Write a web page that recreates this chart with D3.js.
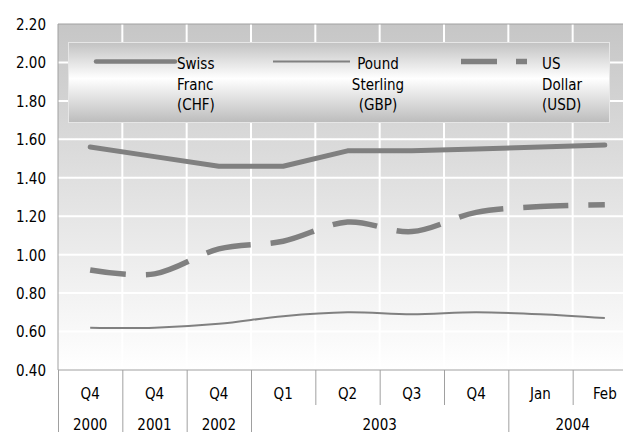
<!DOCTYPE html>
<html>
<head>
<meta charset="utf-8">
<script src="https://cdn.jsdelivr.net/npm/d3@7/dist/d3.min.js"></script>
<style>
  html, body { margin: 0; padding: 0; background: #ffffff; }
  svg { display: block; }
  text { font-family: "DejaVu Sans Condensed", "DejaVu Sans", sans-serif; font-stretch: condensed; font-size: 15px; fill: #000; }
</style>
</head>
<body>
<svg id="chart" width="623" height="432"></svg>
<script>
// Exchange rates per period
const periods = ["Q4", "Q4", "Q4", "Q1", "Q2", "Q3", "Q4", "Jan", "Feb"];
const years   = ["2000", "2001", "2002", "2003", "2003", "2003", "2003", "2004", "2004"];
const chf = [1.56, 1.51, 1.46, 1.46, 1.54, 1.54, 1.55, 1.56, 1.57];
const gbp = [0.62, 0.62, 0.64, 0.68, 0.70, 0.69, 0.70, 0.69, 0.67];
const usd = [0.92, 0.90, 1.03, 1.07, 1.17, 1.12, 1.22, 1.25, 1.26];
const seriesNames = [["Swiss", "Franc", "(CHF)"], ["Pound", "Sterling", "(GBP)"], ["US", "Dollar", "(USD)"]];
const yTicks = [0.4, 0.6, 0.8, 1.0, 1.2, 1.4, 1.6, 1.8, 2.0, 2.2];

const svg = d3.select("#chart");
const plot = { left: 58, top: 24, right: 637, bottom: 370 };
const grey = "#808080";

const idx = periods.map((_, i) => i);
const x = d3.scaleBand().domain(idx).range([plot.left, plot.right]).padding(0);
const y = d3.scaleLinear().domain([0.4, 2.2]).range([plot.bottom, plot.top]);
const cx = i => x(i) + x.bandwidth() / 2;

const defs = svg.append("defs");
const bg = defs.append("linearGradient").attr("id", "plotBg").attr("x1", 0).attr("y1", 0).attr("x2", 0).attr("y2", 1);
bg.append("stop").attr("offset", "0%").attr("stop-color", "#c6c6c6");
bg.append("stop").attr("offset", "100%").attr("stop-color", "#ffffff");
const lg = defs.append("linearGradient").attr("id", "legendBg").attr("x1", 0).attr("y1", 0).attr("x2", 0).attr("y2", 1);
lg.append("stop").attr("offset", "0%").attr("stop-color", "#c2c2c2");
lg.append("stop").attr("offset", "45%").attr("stop-color", "#ffffff");
lg.append("stop").attr("offset", "100%").attr("stop-color", "#bcbcbc");

// Plot background
svg.append("rect")
  .attr("x", plot.left).attr("y", plot.top)
  .attr("width", plot.right - plot.left).attr("height", plot.bottom - plot.top)
  .attr("fill", "url(#plotBg)");

// White grid
const grid = svg.append("g").attr("stroke", "#ffffff").attr("stroke-width", 2);
grid.selectAll("line.h").data(yTicks.slice(1, -1)).join("line")
  .attr("x1", plot.left).attr("x2", plot.right)
  .attr("y1", d => y(d)).attr("y2", d => y(d));
grid.selectAll("line.v").data(idx.slice(1)).join("line")
  .attr("x1", d => x(d)).attr("x2", d => x(d))
  .attr("y1", plot.top).attr("y2", plot.bottom);

// Plot frame
svg.append("path")
  .attr("d", `M${plot.left},${plot.bottom}V${plot.top}H${plot.right}`)
  .attr("fill", "none").attr("stroke", "#a0a0a0").attr("stroke-width", 1);

// Y axis labels
const yAxis = d3.axisLeft(y).tickValues(yTicks).tickFormat(d3.format(".2f")).tickSize(0).tickPadding(12);
const ya = svg.append("g").attr("transform", `translate(${plot.left},0)`).call(yAxis);
ya.select(".domain").remove();
ya.selectAll("text").attr("font-size", null).attr("font-family", null).attr("fill", "#000").attr("dy", "0.36em");

// Category axis: period row and year row
const ax = svg.append("g");
ax.append("line").attr("x1", plot.left).attr("x2", plot.right)
  .attr("y1", plot.bottom).attr("y2", plot.bottom).attr("stroke", "#a0a0a0");
const yearStart = idx.filter(i => i === 0 || years[i] !== years[i - 1]);
ax.selectAll("line.sep").data(idx).join("line")
  .attr("x1", d => x(d) + 0.5).attr("x2", d => x(d) + 0.5)
  .attr("y1", plot.bottom)
  .attr("y2", d => yearStart.includes(d) ? 432 : 405)
  .attr("stroke", "#a0a0a0");
ax.selectAll("text.period").data(idx).join("text")
  .attr("x", d => cx(d)).attr("y", 399)
  .attr("text-anchor", "middle").text(d => periods[d]);
const yearGroups = yearStart.map((s, k) => {
  const e = k + 1 < yearStart.length ? yearStart[k + 1] - 1 : idx.length - 1;
  return { label: years[s], x0: x(s), x1: x(e) + x.bandwidth() };
});
ax.selectAll("text.year").data(yearGroups).join("text")
  .attr("x", d => (d.x0 + d.x1) / 2).attr("y", 430)
  .attr("text-anchor", "middle").text(d => d.label);

// Series lines
const linear = d3.line().x((d, i) => cx(i)).y(d => y(d));
const smooth = d3.line().x((d, i) => cx(i)).y(d => y(d)).curve(d3.curveCardinal.tension(0));

svg.append("path").attr("d", smooth(gbp))
  .attr("fill", "none").attr("stroke", grey).attr("stroke-width", 2);
svg.append("path").attr("d", smooth(usd))
  .attr("fill", "none").attr("stroke", grey).attr("stroke-width", 5.5)
  .attr("stroke-dasharray", "45 20").attr("stroke-dashoffset", 9);
svg.append("path").attr("d", linear(chf))
  .attr("fill", "none").attr("stroke", grey).attr("stroke-width", 5)
  .attr("stroke-linecap", "round").attr("stroke-linejoin", "round");

// Legend
const legend = svg.append("g");
legend.append("rect").attr("x", 68.5).attr("y", 42.5).attr("width", 541).attr("height", 80)
  .attr("fill", "url(#legendBg)").attr("stroke", "#e6e6e6").attr("stroke-width", 1);

const items = [
  { x0: 96, x1: 175, width: 4.5, dash: null, cap: "round", tx: 177, anchor: "start" },
  { x0: 273, x1: 350, width: 1.8, dash: null, cap: "butt", tx: 378, anchor: "middle" },
  { x0: 461, x1: 527, width: 5.5, dash: "36 19 45", cap: "butt", tx: 542, anchor: "start" }
];
items.forEach((it, k) => {
  legend.append("line")
    .attr("x1", it.x0).attr("x2", it.x1).attr("y1", 61.5).attr("y2", 61.5)
    .attr("stroke", grey).attr("stroke-width", it.width)
    .attr("stroke-linecap", it.cap)
    .attr("stroke-dasharray", it.dash);
  const t = legend.append("text").attr("text-anchor", it.anchor);
  seriesNames[k].forEach((w, j) => {
    t.append("tspan").attr("x", it.tx).attr("y", 69 + j * 20.7).text(w);
  });
});
</script>
</body>
</html>
